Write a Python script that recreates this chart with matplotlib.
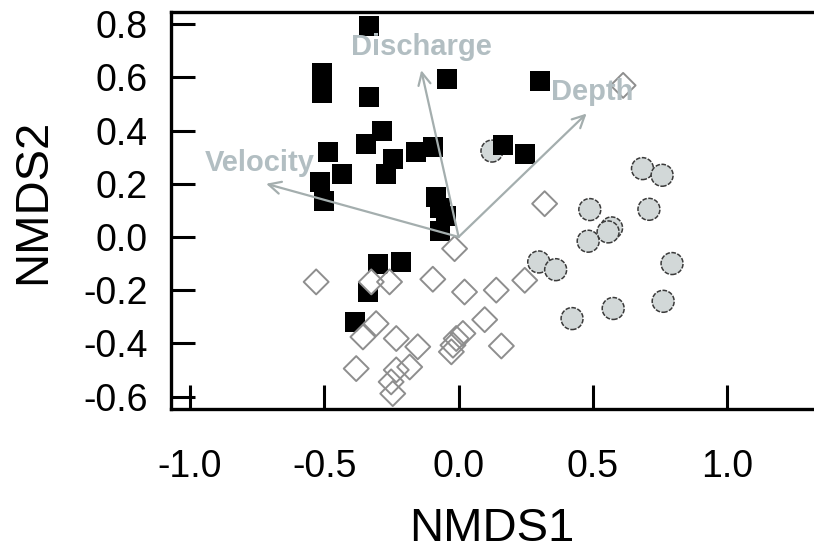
import matplotlib.pyplot as plt

plt.rcParams['font.family'] = ['Liberation Sans', 'DejaVu Sans']

# site scores
sq_x = [-0.335, -0.509, -0.509, -0.335, -0.044, -0.284, -0.343, -0.487, -0.245,
        -0.158, -0.096, -0.433, -0.272, -0.514, -0.499, -0.083, -0.070, -0.046,
        -0.070, -0.300, -0.213, -0.338, -0.387, 0.304, 0.165, 0.246]
sq_y = [0.792, 0.615, 0.540, 0.526, 0.593, 0.397, 0.351, 0.320, 0.295,
        0.320, 0.338, 0.235, 0.236, 0.205, 0.135, 0.150, 0.110, 0.080,
        0.022, -0.100, -0.094, -0.207, -0.320, 0.585, 0.345, 0.311]

ci_x = [0.488, 0.708, 0.569, 0.556, 0.482, 0.298, 0.361, 0.794, 0.761, 0.575,
        0.422, 0.684, 0.757, 0.124]
ci_y = [0.103, 0.104, 0.034, 0.019, -0.016, -0.094, -0.123, -0.100, -0.242,
        -0.269, -0.307, 0.257, 0.232, 0.323]

di_x = [0.612, 0.320, -0.015, 0.022, 0.140, 0.246, 0.097, 0.016, -0.021, 0.159,
        -0.530, -0.096, -0.009, -0.027, -0.325, -0.257, -0.307, -0.356, -0.232,
        -0.152, -0.381, -0.232, -0.182, -0.251, -0.245]
di_y = [0.570, 0.125, -0.044, -0.207, -0.200, -0.163, -0.311, -0.363, -0.407,
        -0.410, -0.169, -0.159, -0.382, -0.432, -0.169, -0.169, -0.326, -0.376,
        -0.382, -0.413, -0.495, -0.500, -0.489, -0.545, -0.589]

# environmental vectors
env_names = ['Discharge', 'Depth', 'Velocity']
env_x = [-0.139, 0.476, -0.716]
env_y = [0.627, 0.464, 0.200]
lab_x = [-0.138, 0.496, -0.741]
lab_y = [0.713, 0.544, 0.277]

fig = plt.figure(figsize=(8.14, 5.55), dpi=100)
ax = fig.add_axes([171/814, (555-409)/555, 647/814, 397/555])

ax.scatter(ci_x, ci_y, s=15.8**2, marker='o', facecolor='#d2d8d8',
           edgecolor='#3a3a3a', linewidths=1.1, linestyle=(0, (3, 1)), zorder=2)
ax.scatter(sq_x, sq_y, s=15**2, marker='s', color='black', linewidths=0, zorder=3)
# white fill first, then outlines so overlapping diamonds stay visible
ax.scatter(di_x, di_y, s=12.7**2, marker='D', facecolor='white', linewidths=0, zorder=4)
ax.scatter(di_x, di_y, s=12.7**2, marker='D', facecolor='none',
           edgecolor='#8e8e8e', linewidths=1.4, zorder=5)

for i in range(len(env_names)):
    ax.annotate('', xy=(env_x[i], env_y[i]), xytext=(0, 0),
                arrowprops=dict(arrowstyle='->', color='#a4aeae', lw=1.6,
                                mutation_scale=22, shrinkA=0, shrinkB=0), zorder=6)
    ax.text(lab_x[i], lab_y[i], env_names[i], color='#b2bec2', fontsize=21,
            fontweight='bold', ha='center', va='center', zorder=7)

ax.set_xlim(-1.07, 1.337)
ax.set_ylim(-0.647, 0.846)
ax.set_xticks([-1.0, -0.5, 0.0, 0.5, 1.0])
ax.set_xticklabels(['-1.0', '-0.5', '0.0', '0.5', '1.0'])
ax.set_yticks([-0.6, -0.4, -0.2, 0.0, 0.2, 0.4, 0.6, 0.8])
ax.set_yticklabels(['-0.6', '-0.4', '-0.2', '0.0', '0.2', '0.4', '0.6', '0.8'])
ax.tick_params(direction='in', length=17, width=2.2, labelsize=27)
ax.tick_params(axis='x', pad=29)
ax.tick_params(axis='y', pad=17)
for sp in ax.spines.values():
    sp.set_linewidth(2.4)

ax.set_xlabel('NMDS1', fontsize=34)
ax.set_ylabel('NMDS2', fontsize=34)
ax.xaxis.label.set_va('center')
ax.yaxis.label.set_va('center')
ax.xaxis.set_label_coords(0.496, -0.3035)
ax.yaxis.set_label_coords(-0.2125, 0.523)

fig.savefig('out.png', dpi=100)
